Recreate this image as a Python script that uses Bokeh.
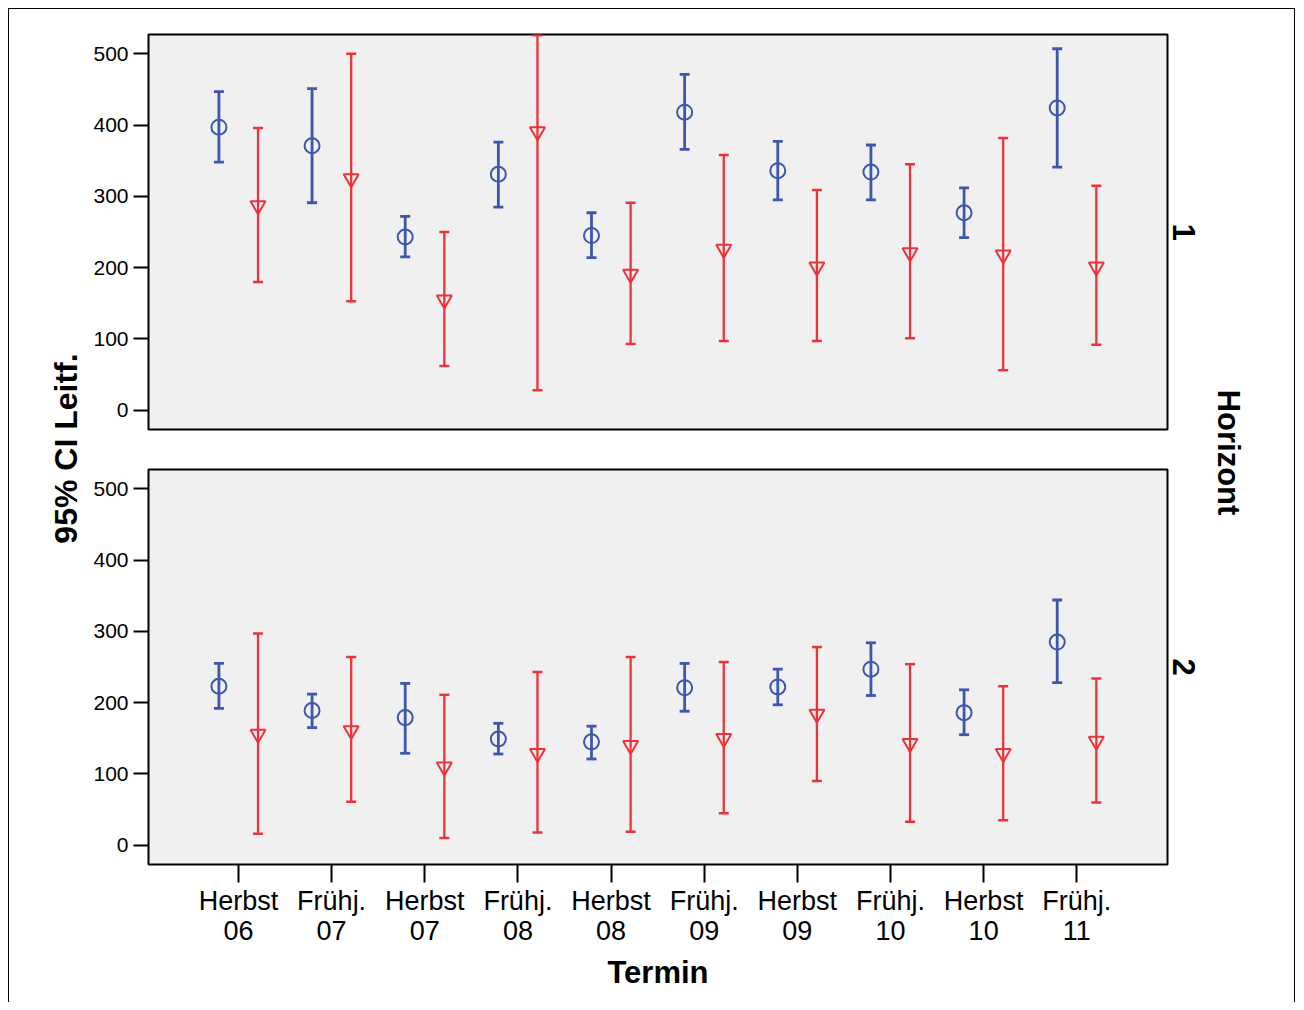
import math
from bokeh.plotting import figure
from bokeh.models import ColumnDataSource, Range1d, FixedTicker, Label, LinearAxis
from bokeh.layouts import row, column
from bokeh.transform import dodge
from bokeh.embed import file_html
from bokeh.resources import INLINE

# ---------------- data ----------------
termine = ["Herbst\n06", "Frühj.\n07", "Herbst\n07", "Frühj.\n08", "Herbst\n08",
           "Frühj.\n09", "Herbst\n09", "Frühj.\n10", "Herbst\n10", "Frühj.\n11"]
xpos = [1, 2, 3, 4, 5, 6, 7, 8, 9, 10]
y_ticks = [0, 100, 200, 300, 400, 500]
horizont = ["1", "2"]

# Horizont 1 (upper panel)
blue_mean_1 = [397, 371, 243, 331, 245, 418, 336, 334, 277, 424]
blue_lo_1 = [348, 291, 215, 285, 214, 366, 295, 295, 242, 341]
blue_hi_1 = [447, 451, 272, 376, 277, 471, 377, 372, 312, 507]
red_mean_1 = [287, 325, 155, 391, 191, 226, 201, 221, 218, 201]
red_lo_1 = [180, 153, 62, 28, 93, 97, 97, 101, 56, 92]
red_hi_1 = [396, 500, 250, 526, 291, 358, 309, 345, 382, 315]

# Horizont 2 (lower panel)
blue_mean_2 = [223, 189, 179, 149, 145, 221, 222, 247, 186, 285]
blue_lo_2 = [192, 165, 129, 128, 121, 188, 197, 210, 155, 228]
blue_hi_2 = [255, 212, 227, 171, 167, 255, 247, 284, 218, 344]
red_mean_2 = [156, 161, 110, 129, 140, 150, 184, 143, 129, 146]
red_lo_2 = [16, 61, 10, 18, 19, 45, 90, 33, 35, 60]
red_hi_2 = [297, 264, 211, 243, 264, 257, 278, 254, 223, 234]

BLUE = "#3d56ae"
RED = "#ee3239"
FONT = "Liberation Sans"
FRAME_BG = "#f0f0f0"

x_range = Range1d(0.034, 10.974)


def panel(height, mb_top, mb_bottom, bm, blo, bhi, rm, rlo, rhi, show_x, hlabel):
    p = figure(width=1120, height=height, x_range=x_range, y_range=Range1d(-27, 527),
               output_backend="svg", toolbar_location=None, tools="",
               x_axis_location="below" if show_x else None,
               min_border_left=59, min_border_right=42,
               min_border_top=mb_top, min_border_bottom=mb_bottom)
    p.background_fill_color = FRAME_BG
    p.border_fill_color = "white"
    p.outline_line_color = "black"
    p.outline_line_width = 2
    p.grid.visible = False

    src = ColumnDataSource(dict(x=xpos, bm=bm, blo=blo, bhi=bhi, rm=rm, rlo=rlo, rhi=rhi))
    xb = dodge("x", -0.21)
    xr = dodge("x", 0.21)

    # blue series
    p.segment(x0=xb, y0="blo", x1=xb, y1="bhi", source=src, line_color=BLUE, line_width=2.8)
    p.scatter(x=xb, y="blo", marker="dash", size=10, line_color=BLUE, line_width=2.8, source=src)
    p.scatter(x=xb, y="bhi", marker="dash", size=10, line_color=BLUE, line_width=2.8, source=src)
    p.scatter(x=xb, y="bm", marker="circle", size=15, fill_color=None,
              line_color=BLUE, line_width=2, source=src)
    # red series
    p.segment(x0=xr, y0="rlo", x1=xr, y1="rhi", source=src, line_color=RED, line_width=2.3)
    p.scatter(x=xr, y="rlo", marker="dash", size=10, line_color=RED, line_width=2.5, source=src)
    p.scatter(x=xr, y="rhi", marker="dash", size=10, line_color=RED, line_width=2.5, source=src)
    p.scatter(x=xr, y="rm", marker="inverted_triangle", size=15, fill_color=None,
              line_color=RED, line_width=2, source=src)

    ya = p.yaxis[0]
    ya.ticker = FixedTicker(ticks=y_ticks)
    ya.axis_line_color = None
    ya.major_tick_out = 15
    ya.major_tick_in = 0
    ya.major_tick_line_width = 2
    ya.major_tick_line_color = "black"
    ya.minor_tick_line_color = None
    ya.major_label_text_font = FONT
    ya.major_label_text_font_size = "21px"
    ya.major_label_text_color = "black"
    ya.major_label_standoff = 5

    ra = LinearAxis(ticker=FixedTicker(ticks=[]), axis_label=hlabel)
    ra.axis_line_color = None
    ra.major_tick_out = 0
    ra.major_tick_in = 0
    ra.minor_tick_line_color = None
    ra.major_tick_line_color = None
    ra.axis_label_standoff = 5
    ra.axis_label_text_font = FONT
    ra.axis_label_text_font_size = "31px"
    ra.axis_label_text_font_style = "bold"
    ra.axis_label_text_color = "black"
    p.add_layout(ra, "right")

    if show_x:
        xa = p.xaxis[0]
        xa.ticker = FixedTicker(ticks=xpos)
        xa.major_label_overrides = {x: lab for x, lab in zip(xpos, termine)}
        xa.axis_line_color = None
        xa.major_tick_out = 18
        xa.major_tick_in = 0
        xa.major_tick_line_width = 2
        xa.major_tick_line_color = "black"
        xa.minor_tick_line_color = None
        xa.major_label_text_font = FONT
        xa.major_label_text_font_size = "27px"
        xa.major_label_text_color = "black"
        xa.major_label_text_line_height = 1.0
        xa.major_label_standoff = 3
        xa.axis_label = "Termin"
        xa.axis_label_text_font = FONT
        xa.axis_label_text_font_size = "31px"
        xa.axis_label_text_font_style = "bold"
        xa.axis_label_text_color = "black"
        xa.axis_label_standoff = 6
    return p


top = panel(440, 25, 20, blue_mean_1, blue_lo_1, blue_hi_1, red_mean_1, red_lo_1, red_hi_1,
            False, horizont[0])
bot = panel(553, 20, 138, blue_mean_2, blue_lo_2, blue_hi_2, red_mean_2, red_lo_2, red_hi_2,
            True, horizont[1])


def strip(width, x0, x1):
    s = figure(width=width, height=993, x_range=Range1d(x0, x1), y_range=Range1d(1002, 9),
               output_backend="svg", toolbar_location=None, tools="",
               x_axis_location=None, y_axis_location=None, min_border=0)
    s.outline_line_color = None
    s.background_fill_color = "white"
    s.border_fill_color = "white"
    s.grid.visible = False
    return s


left = strip(80, 9, 89)
left.add_layout(Label(x=65.5, y=448, text="95% CI Leitf.", angle=math.pi / 2,
                      text_align="center", text_baseline="middle",
                      text_font=FONT, text_font_size="32px", text_font_style="bold",
                      text_color="black"))

right = strip(85, 1209, 1294)
right.add_layout(Label(x=1228, y=452, text="Horizont", angle=-math.pi / 2,
                       text_align="center", text_baseline="middle",
                       text_font=FONT, text_font_size="31px", text_font_style="bold",
                       text_color="black"))

layout = row(left, column(top, bot), right,
             styles={"margin": "8px 0px 0px 8px",
                     "border-left": "1px solid black", "border-top": "1px solid black",
                     "border-right": "1px solid black"})

open("out.html", "w").write(file_html(layout, INLINE))
